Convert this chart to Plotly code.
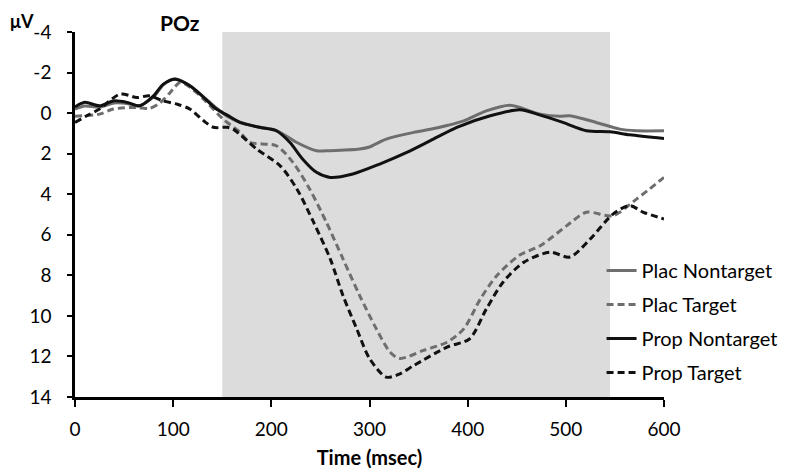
import plotly.graph_objects as go

# ---- data ----
plac_nt_t = [0, 10, 25, 40, 55, 65, 80, 90, 102, 117, 131, 144, 155, 168, 188, 205, 226, 246, 260, 290, 300, 317, 345, 362, 380, 396, 419, 443, 453, 474, 494, 504, 531, 555, 572, 600]
plac_nt_v = [-0.2, -0.35, -0.3, -0.5, -0.45, -0.35, -0.8, -1.4, -1.7, -1.35, -0.8, -0.25, 0.15, 0.45, 0.7, 0.85, 1.45, 1.86, 1.85, 1.77, 1.67, 1.28, 0.95, 0.8, 0.6, 0.38, -0.11, -0.39, -0.28, 0.05, 0.16, 0.13, 0.46, 0.79, 0.87, 0.87]

prop_nt_t = [0, 10, 25, 39, 53, 66, 80, 90, 102, 117, 131, 144, 155, 168, 188, 205, 219, 232, 246, 260, 283, 311, 338, 362, 389, 423, 453, 474, 497, 521, 545, 565, 600]
prop_nt_v = [-0.3, -0.53, -0.36, -0.6, -0.53, -0.36, -0.85, -1.43, -1.67, -1.35, -0.78, -0.2, 0.1, 0.46, 0.7, 0.87, 1.45, 2.27, 2.92, 3.17, 3.0, 2.5, 1.94, 1.36, 0.7, 0.13, -0.16, 0.1, 0.46, 0.87, 0.92, 1.07, 1.25]

plac_t_t = [0, 25, 39, 63, 76, 87, 97, 107, 117, 131, 151, 168, 178, 205, 222, 239, 256, 273, 290, 307, 321, 331, 355, 379, 396, 413, 430, 453, 474, 501, 521, 548, 572, 600]
plac_t_v = [0.15, 0.05, -0.2, -0.28, -0.23, -0.52, -1.02, -1.51, -1.28, -0.69, 0.3, 0.94, 1.44, 1.61, 2.43, 3.74, 5.38, 7.19, 9.0, 10.64, 11.79, 12.1, 11.7, 11.3, 10.64, 9.16, 8.0, 7.0, 6.54, 5.55, 4.89, 5.06, 4.24, 3.17]

prop_t_t = [0, 12, 25, 46, 63, 76, 90, 104, 117, 131, 141, 155, 161, 185, 209, 226, 243, 260, 273, 287, 300, 317, 331, 345, 379, 402, 419, 436, 457, 484, 504, 525, 548, 565, 579, 600]
prop_t_v = [0.46, 0.13, -0.2, -0.94, -0.77, -0.85, -0.6, -0.44, -0.2, 0.38, 0.7, 0.7, 0.79, 1.77, 2.6, 3.74, 5.38, 7.19, 9.0, 10.64, 12.1, 13.02, 12.86, 12.45, 11.54, 11.13, 9.66, 8.34, 7.36, 6.86, 7.1, 6.2, 4.98, 4.56, 4.89, 5.22]

shade_start, shade_end = 150, 545
y_ticks = [-4, -2, 0, 2, 4, 6, 8, 10, 12, 14]
x_ticks = [0, 100, 200, 300, 400, 500, 600]

FONT = "Lato"
GRAY = "#6e6e6e"
BLACK = "#111111"

fig = go.Figure()
series = [
    ("Plac Nontarget", plac_nt_t, plac_nt_v, GRAY, "solid"),
    ("Plac Target", plac_t_t, plac_t_v, GRAY, "7px,4px"),
    ("Prop Nontarget", prop_nt_t, prop_nt_v, BLACK, "solid"),
    ("Prop Target", prop_t_t, prop_t_v, BLACK, "7px,4px"),
]
for name, t, v, col, dash in series:
    fig.add_trace(go.Scatter(
        x=t, y=v, name=name, mode="lines", legendgroup=name,
        line=dict(color=col, width=3, dash=dash, shape="spline", smoothing=0.8),
    ))

fig.add_shape(type="rect", xref="x", yref="paper", x0=shade_start, x1=shade_end,
              y0=0, y1=1, fillcolor="#dcdcdc", line_width=0, layer="below")

PLOT_W = 589
# page body adds an 8px margin, so the figure is 8px smaller and margins compensate
fig.update_layout(
    width=780, height=467,
    margin=dict(l=67, r=124, t=24, b=78, autoexpand=False),
    paper_bgcolor="white", plot_bgcolor="white",
    font=dict(family=FONT, size=19, color="black"),
    showlegend=True,
    legend=dict(x=0.894, y=0.40, xanchor="left", yanchor="top",
                bgcolor="rgba(0,0,0,0)", font=dict(size=20, family=FONT),
                tracegroupgap=5),
    xaxis=dict(range=[0, 600], tickvals=x_ticks, ticktext=[str(v) for v in x_ticks],
               ticks="outside", ticklen=7, tickwidth=2, tickcolor="black",
               showline=True, linecolor="black", linewidth=2.5,
               showgrid=False, zeroline=False, ticklabelstandoff=6,
               title=dict(text="<b>Time (msec)</b>", font=dict(size=20, family=FONT), standoff=13),
               tickfont=dict(size=19)),
    yaxis=dict(range=[14, -4], tickvals=y_ticks, ticktext=[str(v) for v in y_ticks],
               ticks="outside", ticklen=5, tickwidth=2, tickcolor="black",
               showline=True, linecolor="black", linewidth=2.5,
               showgrid=False, zeroline=False, ticklabelstandoff=12,
               tickfont=dict(size=19)),
    annotations=[
        dict(text="<b>POz</b>", xref="paper", yref="paper", x=(180 - 75) / PLOT_W, y=1.0,
             yshift=24, showarrow=False, font=dict(size=21, family=FONT),
             xanchor="center", yanchor="top"),
        dict(text="<b>μV</b>", xref="paper", yref="paper", x=-67 / PLOT_W, y=1.0,
             yshift=24, showarrow=False, font=dict(size=18, family=FONT),
             xanchor="left", yanchor="top"),
    ],
)

fig.write_html("out.html")
